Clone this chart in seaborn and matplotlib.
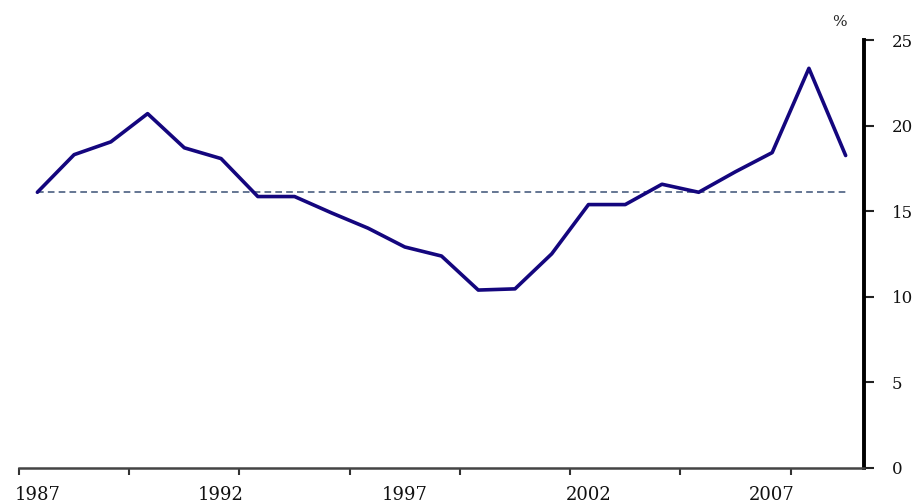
import matplotlib
matplotlib.use("Agg")
import pandas as pd
import matplotlib.pyplot as plt
import seaborn as sns

# Chart data
years = [1987, 1988, 1989, 1990, 1991, 1992, 1993, 1994, 1995, 1996, 1997, 1998,
         1999, 2000, 2001, 2002, 2003, 2004, 2005, 2006, 2007, 2008, 2009]
rate = [16.1, 18.3, 19.05, 20.7, 18.7, 18.07, 15.85, 15.85, 14.9, 14.0, 12.9, 12.37,
        10.38, 10.45, 12.5, 15.38, 15.38, 16.57, 16.1, 17.3, 18.42, 23.35, 18.25]
average = 16.12
label_years = [1987, 1992, 1997, 2002, 2007]
y_ticks = [0, 5, 10, 15, 20, 25]

data = pd.DataFrame({'Year': years, 'Rate': rate})
data['pos'] = range(len(data))
data['Average'] = average

sns.set_theme(style="white")
plt.rcParams['font.family'] = ['DejaVu Serif', 'Liberation Serif']

fig = plt.figure(figsize=(9.23, 5.04), dpi=100)
ax = fig.add_axes([0.0206, 0.0724, 0.9155, 0.848])

sns.lineplot(x='pos', y='Average', data=data, ax=ax, color='#4a5f80',
             linewidth=1.2, linestyle=(0, (4, 2.5)))
sns.lineplot(x='pos', y='Rate', data=data, ax=ax, color='#14067e',
             linewidth=2.6)

ax.set_xlim(-0.5, len(years) - 0.5)
ax.set_ylim(0, 25)

# category axis: tick marks every 3 categories, labels every 5
ax.set_xticks([p - 0.5 for p in range(0, len(years), 3)])
ax.set_xticklabels([])
ax.set_xticks([years.index(y) for y in label_years], minor=True)
ax.set_xticklabels([str(y) for y in label_years], minor=True)
ax.tick_params(axis='x', which='major', direction='out', length=5, width=1.5,
               color='#333333', bottom=True)
ax.tick_params(axis='x', which='minor', length=0, pad=13, labelsize=13,
               labelcolor='#111111')

ax.yaxis.tick_right()
ax.set_yticks(y_ticks)
ax.set_yticklabels([str(v) for v in y_ticks])
ax.tick_params(axis='y', direction='out', length=7, width=1.5, color='#222222',
               right=True, left=False, pad=13, labelsize=12, labelcolor='#111111')

ax.set_xlabel('')
ax.set_ylabel('')
for side in ['top', 'left']:
    ax.spines[side].set_visible(False)
ax.spines['bottom'].set_color('#444444')
ax.spines['bottom'].set_linewidth(1.8)
ax.spines['right'].set_color('black')
ax.spines['right'].set_linewidth(2.8)

fig.text(0.909, 0.956, '%', fontsize=11, ha='center', va='center')

fig.savefig('out.png', dpi=100)
